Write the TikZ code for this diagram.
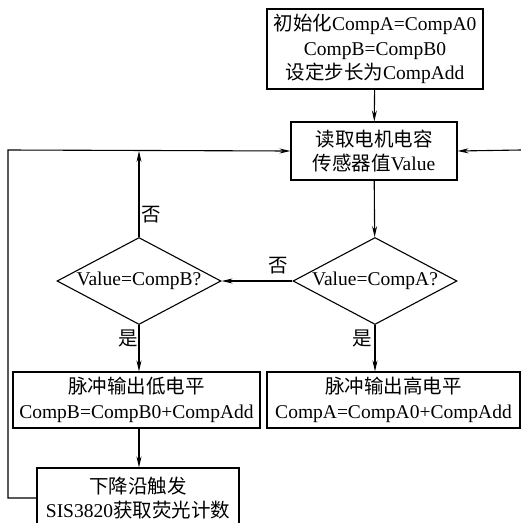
\documentclass[tikz,border=0pt]{standalone}
\usepackage{fontspec}
\setmainfont{Liberation Serif}
\newfontfamily\cjk{Noto Sans CJK SC}
\usetikzlibrary{shapes.geometric, arrows.meta}
\tikzset{>={Stealth[length=11pt, width=5pt]}}
\tikzset{
	box/.style = {draw, line width=1.1pt, align=center, inner sep=0pt},
	decision/.style = {draw, line width=1.1pt, diamond, aspect=1.9, inner sep=0pt, minimum width=164pt, minimum height=87pt},
	line/.style = {line width=1.1pt}
}
\newcommand{\cn}[1]{{\cjk #1}}

\begin{document}
\begin{tikzpicture}[x=1pt, y=-1pt, font=\fontsize{19.5}{24.5}\selectfont]
	\clip (0,0) rectangle (521,523);
	\node[box, minimum width=216pt, minimum height=80pt] (init) at (375,49) {\cn{初始化}CompA=CompA0\\CompB=CompB0\\\cn{设定步长为}CompAdd};
	\node[box, minimum width=166pt, minimum height=58pt] (read) at (374,151) {\cn{读取电机电容}\\\cn{传感器值}Value};
	\node[decision] (decA) at (375,281) {Value=CompA?};
	\node[decision] (decB) at (139,281) {Value=CompB?};
	\node[box, minimum width=247pt, minimum height=56pt] (low) at (136.5,400) {\cn{脉冲输出低电平}\\CompB=CompB0+CompAdd};
	\node[box, minimum width=253pt, minimum height=56pt] (high) at (393.5,400) {\cn{脉冲输出高电平}\\CompA=CompA0+CompAdd};
	\node[box, minimum width=202pt, minimum height=60pt] (trig) at (138,498) {\cn{下降沿触发}\\SIS3820\cn{获取荧光计数}};
	\coordinate (loopL) at (8,150);
	\coordinate (loopR) at (521,150);

	\draw[line, ->] (init) -- (read);
	\draw[line, ->] (read) -- (decA);
	\draw[line, ->] (decA) -- (decB);
	\draw[line, ->] (decA.south) -- (decA.south |- high.north);
	\draw[line, ->] (decB.south) -- (decB.south |- low.north);
	\draw[line, ->] (decB.north) -- (decB.north |- read.west);
	\draw[line, ->] (low.south -| decB) -- (trig.north -| decB);
	\draw[line, ->] (trig.west) -| (loopL) -- (read.west);
	\draw[line, ->] (loopR) -- (read.east);

	\node at (278,266) {\cn{否}};
	\node at (151,215) {\cn{否}};
	\node at (128,338) {\cn{是}};
	\node at (362,338) {\cn{是}};
\end{tikzpicture}
\end{document}
